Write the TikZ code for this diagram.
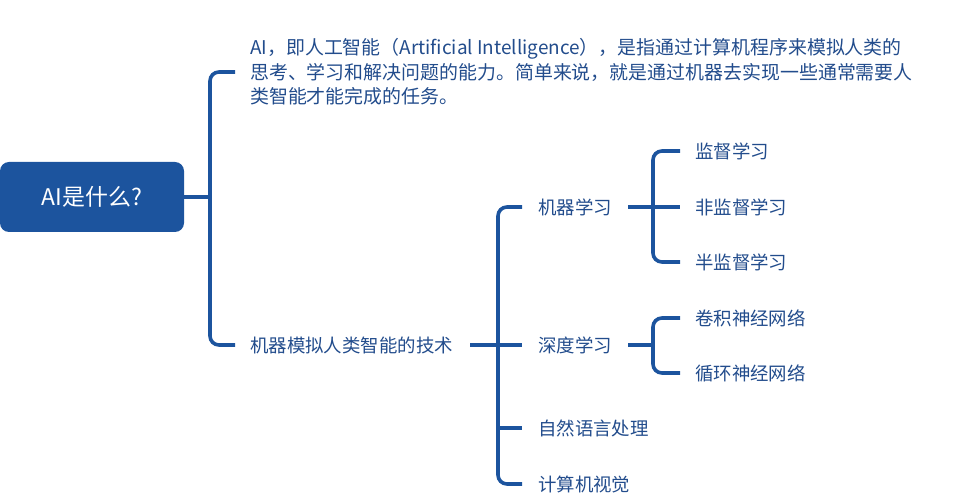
\documentclass[tikz,border=0pt]{standalone}
\usepackage{fontspec}
\setmainfont{Noto Sans CJK SC}
\usepackage{tikz}
\usetikzlibrary{positioning,calc}

\definecolor{aiblue}{RGB}{28,84,158}
\definecolor{aitext}{RGB}{34,76,140}

\begin{document}
\begin{tikzpicture}[x=1bp,y=-1bp,
	link/.style={aiblue,line width=3.6bp,rounded corners=9bp},
	root/.style={fill=aiblue,text=white,rounded corners=9bp,minimum width=184bp,minimum height=70bp,font=\fontsize{23}{26}\selectfont},
	leaf/.style={anchor=west,inner sep=0pt,text=aitext,font=\fontsize{18.5}{22}\selectfont}]
	\useasboundingbox (0,0) rectangle (964,500);

	\node[root] (root) at (92,197) {AI是什么?};
	\node[leaf,align=left,font=\fontsize{19}{24.5}\selectfont] (def) at (250,72)
		{AI，即人工智能（Artificial Intelligence），是指通过计算机程序来模拟人类的\\
		 思考、学习和解决问题的能力。简单来说，就是通过机器去实现一些通常需要人\\
		 类智能才能完成的任务。};
	\node[leaf] (tech) at (250,345) {机器模拟人类智能的技术};

	\node[leaf] (ml)  at (538,207) {机器学习};
	\node[leaf] (dl)  at (538,345) {深度学习};
	\node[leaf] (nlp) at (538,428) {自然语言处理};
	\node[leaf] (cv)  at (538,484) {计算机视觉};

	\node[leaf] (sup)   at (695,151) {监督学习};
	\node[leaf] (unsup) at (695,207) {非监督学习};
	\node[leaf] (semi)  at (695,262) {半监督学习};
	\node[leaf] (cnn)   at (695,318) {卷积神经网络};
	\node[leaf] (rnn)   at (695,373) {循环神经网络};

	\coordinate (s1) at (210,197);
	\coordinate (s2) at (498,345);
	\coordinate (s3) at (653,207);
	\coordinate (s4) at (653,345);

	% root
	\draw[link] (root.east) -- (s1);
	\draw[link] ($(def.west)+(-15,0)$) -| (s1) |- ($(tech.west)+(-15,0)$);
	% technik
	\draw[link] ($(tech.east)+(17,0)$) -- ($(dl.west)+(-16,0)$);
	\draw[link] ($(ml.west)+(-16,0)$) -| (s2) |- ($(cv.west)+(-16,0)$);
	\draw[link] (s2 |- nlp.west) -- ($(nlp.west)+(-16,0)$);
	% ml
	\draw[link] ($(ml.east)+(16,0)$) -- ($(unsup.west)+(-15,0)$);
	\draw[link] ($(sup.west)+(-15,0)$) -| (s3) |- ($(semi.west)+(-15,0)$);
	% dl
	\draw[link] ($(dl.east)+(16,0)$) -- (s4);
	\draw[link] ($(cnn.west)+(-15,0)$) -| (s4) |- ($(rnn.west)+(-15,0)$);
\end{tikzpicture}
\end{document}
